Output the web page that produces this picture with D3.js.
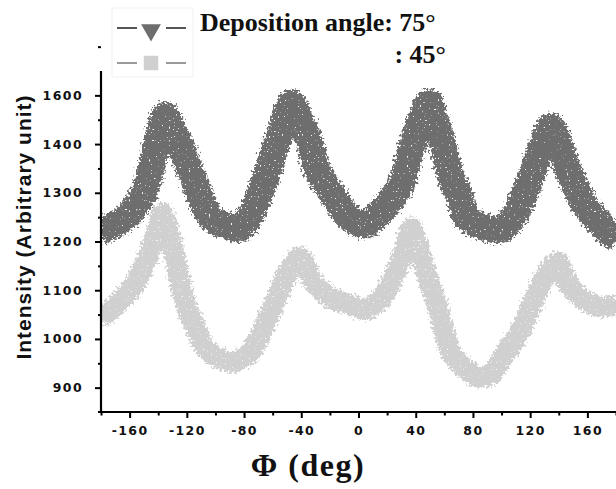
<!DOCTYPE html>
<html>
<head>
<meta charset="utf-8">
<script src="https://cdn.jsdelivr.net/npm/d3@7"></script>
<style>
  html, body { margin: 0; padding: 0; background: #fff; }
  svg { display: block; }
</style>
</head>
<body>
<svg id="chart" width="616" height="489"></svg>
<script>
// Azimuthal intensity scans, Φ in degrees
const phi75 = [-180,-175,-170,-165,-160,-155,-150,-145,-140,-135,-130,-125,-120,-115,-110,-105,-100,-95,-90,-85,-80,-75,-70,-65,-60,-55,-50,-47,-43,-39,-35,-30,-25,-20,-15,-10,-5,0,5,10,15,20,25,30,35,40,45,49,53,57,62,66,70,75,80,85,90,95,100,105,110,115,120,125,130,134,138,143,148,153,158,163,168,173,178,180];
const int75 = [1222,1228,1236,1244,1256,1275,1300,1350,1430,1518,1458,1400,1362,1325,1288,1255,1242,1235,1230,1226,1234,1258,1290,1330,1375,1440,1530,1568,1530,1477,1420,1355,1325,1305,1282,1262,1245,1238,1234,1245,1260,1275,1295,1315,1370,1440,1520,1572,1510,1440,1360,1320,1300,1250,1240,1232,1228,1224,1225,1238,1258,1290,1326,1370,1420,1470,1440,1377,1335,1305,1275,1256,1240,1222,1212,1210];

const phi45 = [-180,-175,-170,-165,-160,-155,-150,-145,-140,-137,-134,-130,-125,-120,-115,-110,-105,-100,-95,-90,-85,-80,-75,-70,-65,-60,-55,-50,-45,-41,-37,-32,-25,-20,-15,-10,-5,0,5,10,15,20,25,30,34,37,40,44,48,52,56,60,64,68,73,78,83,88,92,96,101,106,111,116,120,125,130,135,139,143,148,153,158,163,170,175,180];
const int45 = [1045,1055,1068,1084,1098,1120,1150,1185,1230,1258,1235,1190,1120,1065,1030,995,975,964,958,952,955,962,975,1000,1030,1065,1100,1135,1155,1168,1150,1118,1098,1085,1078,1074,1070,1064,1060,1068,1080,1100,1130,1165,1200,1228,1205,1165,1130,1095,1060,1015,975,958,943,932,922,922,926,940,962,985,1005,1035,1063,1095,1125,1148,1158,1135,1106,1092,1080,1072,1065,1068,1070];

const yTicks = [900, 1000, 1100, 1200, 1300, 1400, 1600];
const yMinor = [950, 1050, 1150, 1250, 1350, 1500, 1700];
const xTicks = [-160, -120, -80, -40, 0, 40, 80, 120, 160];
const xMinor = [-180, -140, -100, -60, -20, 20, 60, 100, 140, 180];

const legendTitle = "Deposition angle: 75\u00B0";
const legendSecond = ": 45\u00B0";

const svg = d3.select("#chart");
const plotL = 101, plotR = 616, plotT = 71, plotB = 412;

const x = d3.scaleLinear().domain([-180, 180]).range([plotL, plotR]);
// the printed axis steps evenly through its labels, so the scale is piecewise
const yDomain = [850, 900, 1000, 1100, 1200, 1300, 1400, 1600, 1700];
const step = (plotB - plotT) / 7;
const y = d3.scaleLinear()
  .domain(yDomain)
  .range(yDomain.map((d, i) => i === 0 ? plotB : plotB - step / 2 - (i - 1) * step));

const defs = svg.append("defs");
defs.append("clipPath").attr("id", "plot")
  .append("rect").attr("x", plotL + 1).attr("y", plotT - 10)
  .attr("width", plotR - plotL).attr("height", plotB - plotT + 8);

// ragged edges and pin-holes for the dense scatter bands
function roughFilter(id, seed, holes) {
  const f = defs.append("filter").attr("id", id)
    .attr("x", "-5%").attr("y", "-20%").attr("width", "110%").attr("height", "140%");
  f.append("feTurbulence").attr("type", "fractalNoise")
    .attr("baseFrequency", "0.4").attr("numOctaves", 2).attr("seed", seed).attr("result", "n");
  f.append("feDisplacementMap").attr("in", "SourceGraphic").attr("in2", "n")
    .attr("scale", 11).attr("xChannelSelector", "R").attr("yChannelSelector", "G")
    .attr("result", "d");
  f.append("feTurbulence").attr("type", "fractalNoise")
    .attr("baseFrequency", "0.55").attr("numOctaves", 1).attr("seed", seed + 7).attr("result", "h");
  f.append("feColorMatrix").attr("in", "h").attr("type", "matrix")
    .attr("values", `0 0 0 0 0  0 0 0 0 0  0 0 0 0 0  ${holes} 0 0 0 ${-holes * 0.68}`)
    .attr("result", "mask");
  f.append("feComposite").attr("in", "d").attr("in2", "mask").attr("operator", "out");
}
roughFilter("rough75", 3, 14);
roughFilter("rough45", 11, 10);

const series = [
  { phi: phi45, val: int45, color: "#d0d0d0", width: 21, shape: d3.symbolSquare, filt: "rough45" },
  { phi: phi75, val: int75, color: "#6e6e6e", width: 27, shape: d3.symbolTriangle, filt: "rough75" }
];

const g = svg.append("g").attr("clip-path", "url(#plot)");
const line = d3.line().x(d => x(d[0])).y(d => y(d[1])).curve(d3.curveMonotoneX);

series.forEach(s => {
  const pts = s.phi.map((p, i) => [p, s.val[i]]);
  const sg = g.append("g").attr("filter", `url(#${s.filt})`);
  sg.append("path").datum(pts)
    .attr("d", line)
    .attr("fill", "none")
    .attr("stroke", s.color)
    .attr("stroke-width", s.width)
    .attr("stroke-linejoin", "round")
    .attr("stroke-linecap", "butt");
  sg.selectAll("path.pt").data(pts).enter().append("path")
    .attr("class", "pt")
    .attr("transform", d => `translate(${x(d[0])},${y(d[1])}) rotate(${s.shape === d3.symbolTriangle ? 180 : 0})`)
    .attr("d", d3.symbol().type(s.shape).size(40))
    .attr("fill", s.color);
});

// axes
const axisFont = "'DejaVu Sans', sans-serif";
const yAxis = svg.append("g").attr("transform", `translate(${plotL},0)`)
  .call(d3.axisLeft(y).tickValues(yTicks).tickSize(6).tickPadding(12).tickFormat(d3.format("d")));
yAxis.append("g").call(d3.axisLeft(y).tickValues(yMinor).tickSize(3).tickFormat(""))
  .select(".domain").remove();
yAxis.select(".domain").attr("d", `M0,${plotT}V${plotB}`);

const xAxis = svg.append("g").attr("transform", `translate(0,${plotB})`)
  .call(d3.axisBottom(x).tickValues(xTicks).tickSize(6).tickPadding(8)
    .tickFormat(d => d < 0 ? "-" + Math.abs(d) : String(d)));
xAxis.append("g").call(d3.axisBottom(x).tickValues(xMinor).tickSize(3.5).tickFormat(""))
  .select(".domain").remove();
xAxis.select(".domain").attr("d", `M${plotL - 3},0H${plotR}`);

svg.selectAll(".domain").attr("stroke", "#000").attr("stroke-width", 2.2);
svg.selectAll(".tick line").attr("stroke", "#000").attr("stroke-width", 2);
svg.selectAll(".tick text")
  .attr("font-family", axisFont).attr("font-weight", "bold")
  .attr("font-size", 12.5).attr("letter-spacing", 1.4).attr("fill", "#111");

// axis titles
svg.append("text")
  .attr("transform", "translate(23,227) rotate(-90)")
  .attr("text-anchor", "middle").attr("dominant-baseline", "central")
  .attr("font-family", "'Liberation Sans', Arial, sans-serif").attr("font-weight", "bold")
  .attr("font-size", 21).attr("letter-spacing", 1).attr("fill", "#111")
  .text("Intensity (Arbitrary unit)");

svg.append("text")
  .attr("x", 308).attr("y", 476).attr("text-anchor", "middle")
  .attr("font-family", "'Liberation Serif', 'Times New Roman', serif").attr("font-weight", "bold")
  .attr("font-size", 32).attr("letter-spacing", 1.5).attr("fill", "#111")
  .text("\u03A6 (deg)");

// legend
const lg = svg.append("g");
lg.append("rect").attr("x", 112).attr("y", 8).attr("width", 81).attr("height", 69)
  .attr("fill", "#fff").attr("stroke", "#f2f2f2").attr("stroke-width", 1);
const rows = [
  { yy: 28, color: "#6e6e6e", dash: "#555", shape: d3.symbolTriangle, rot: 180, size: 170 },
  { yy: 63, color: "#d0d0d0", dash: "#9a9a9a", shape: d3.symbolSquare, rot: 0, size: 210 }
];
rows.forEach(r => {
  lg.append("line").attr("x1", 117).attr("x2", 137).attr("y1", r.yy).attr("y2", r.yy)
    .attr("stroke", r.dash).attr("stroke-width", 2);
  lg.append("line").attr("x1", 166).attr("x2", 186).attr("y1", r.yy).attr("y2", r.yy)
    .attr("stroke", r.dash).attr("stroke-width", 2);
  lg.append("path").attr("transform", `translate(151,${r.yy + (r.rot ? 2 : 0)}) rotate(${r.rot})`)
    .attr("d", d3.symbol().type(r.shape).size(r.size)).attr("fill", r.color);
});
const serif = "'Liberation Serif', 'Times New Roman', serif";
lg.append("text").attr("x", 200).attr("y", 31)
  .attr("font-family", serif).attr("font-weight", "bold").attr("font-size", 26)
  .attr("fill", "#111").text(legendTitle);
lg.append("text").attr("x", 446).attr("y", 63).attr("text-anchor", "end")
  .attr("font-family", serif).attr("font-weight", "bold").attr("font-size", 26)
  .attr("fill", "#111").text(legendSecond);
</script>
</body>
</html>
